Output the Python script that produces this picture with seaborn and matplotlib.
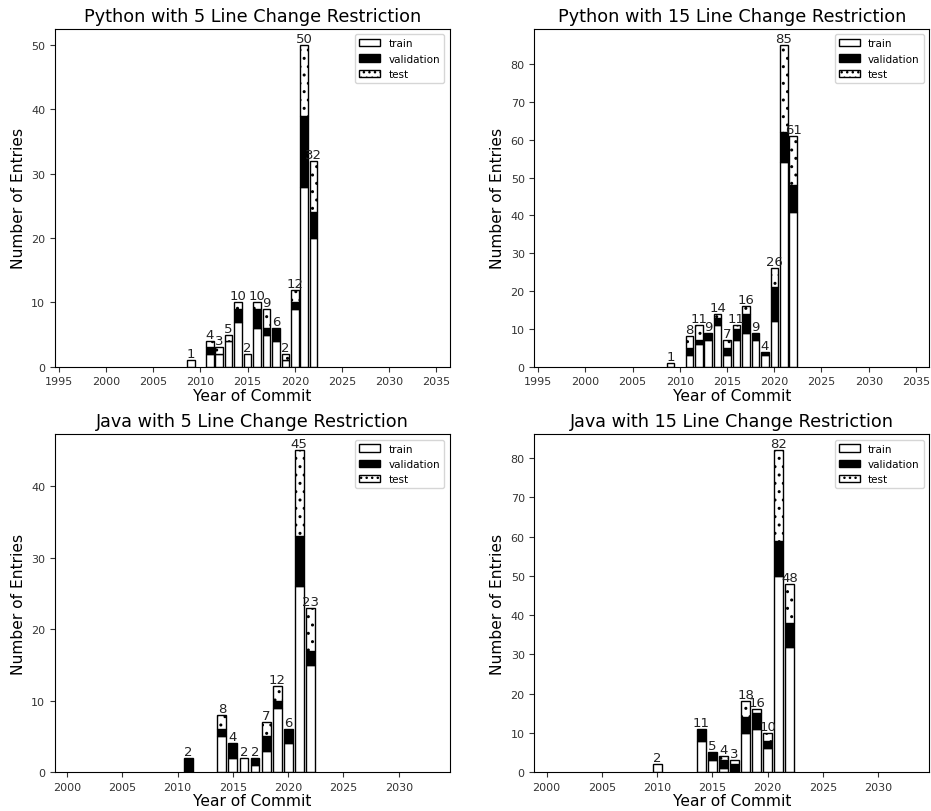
import matplotlib
matplotlib.use("Agg")
import matplotlib.pyplot as plt
import matplotlib.patches as mpatches
import seaborn as sns
import pandas as pd
import numpy as np
from matplotlib.colors import to_rgba

# ---------------- data ----------------
py5_years = [2009, 2011, 2012, 2013, 2014, 2015, 2016, 2017, 2018, 2019, 2020, 2021, 2022]
py5_train = [1, 2, 2, 4, 7, 2, 6, 5, 4, 1, 9, 28, 20]
py5_val = [0, 1, 0, 0, 2, 0, 3, 1, 2, 0, 1, 11, 4]
py5_test = [0, 1, 1, 1, 1, 0, 1, 3, 0, 1, 2, 11, 8]

py15_years = [2009, 2011, 2012, 2013, 2014, 2015, 2016, 2017, 2018, 2019, 2020, 2021, 2022]
py15_train = [1, 3, 6, 7, 11, 3, 7, 9, 7, 3, 12, 54, 41]
py15_val = [0, 2, 1, 2, 2, 2, 3, 5, 2, 1, 9, 8, 7]
py15_test = [0, 3, 4, 0, 1, 2, 1, 2, 0, 0, 5, 23, 13]

java5_years = [2011, 2014, 2015, 2016, 2017, 2018, 2019, 2020, 2021, 2022]
java5_train = [0, 5, 2, 2, 1, 3, 9, 4, 26, 15]
java5_val = [2, 1, 2, 0, 1, 2, 1, 2, 7, 2]
java5_test = [0, 2, 0, 0, 0, 2, 2, 0, 12, 6]

java15_years = [2010, 2014, 2015, 2016, 2017, 2018, 2019, 2020, 2021, 2022]
java15_train = [2, 8, 3, 1, 0, 10, 11, 6, 50, 32]
java15_val = [0, 3, 2, 2, 2, 4, 4, 2, 9, 6]
java15_test = [0, 0, 0, 1, 1, 4, 1, 2, 23, 10]

titles = ["Python with 5 Line Change Restriction", "Python with 15 Line Change Restriction",
          "Java with 5 Line Change Restriction", "Java with 15 Line Change Restriction"]
split_names = ["train", "validation", "test"]

panels = [
    (py5_years, py5_train, py5_val, py5_test, (1994.6, 2036.4)),
    (py15_years, py15_train, py15_val, py15_test, (1994.6, 2036.4)),
    (java5_years, java5_train, java5_val, java5_test, (1998.9, 2034.6)),
    (java15_years, java15_train, java15_val, java15_test, (1998.9, 2034.6)),
]

TEST_MARK = (0.998, 0.998, 0.998)
palette = {"train": "white", "validation": "black", "test": TEST_MARK}

plt.rcParams["hatch.linewidth"] = 1.0

fig, axes = plt.subplots(2, 2, figsize=(9.31, 8.12), dpi=100)
fig.subplots_adjust(left=0.059, right=0.998, top=0.963, bottom=0.048,
                    wspace=0.215, hspace=0.2)

for ax, title, (years, tr, va, te, xl) in zip(axes.flat, titles, panels):
    rows = []
    for y, a, b, c in zip(years, tr, va, te):
        rows.append((y, "train", a))
        rows.append((y, "validation", b))
        rows.append((y, "test", c))
    df = pd.DataFrame(rows, columns=["year", "split", "count"])
    sns.histplot(data=df, x="year", weights="count", hue="split",
                 hue_order=["test", "validation", "train"], multiple="stack",
                 discrete=True, shrink=0.8, palette=palette, alpha=1,
                 edgecolor="black", linewidth=1, legend=False, ax=ax)
    tm = to_rgba(TEST_MARK)
    for p in ax.patches:
        if p.get_height() == 0:
            p.set_visible(False)
            continue
        fc = p.get_facecolor()
        if np.allclose(fc, tm, atol=1e-3):
            p.set_facecolor("white")
            p.set_hatch("..")
    totals = [a + b + c for a, b, c in zip(tr, va, te)]
    for y, t in zip(years, totals):
        ax.text(y, t, str(t), ha="center", va="bottom", fontsize=9.5, color="#222222")
    ax.set_xlim(*xl)
    ax.set_ylim(0, max(totals) * 1.05)
    ax.set_title(title, fontsize=12.7)
    ax.set_xlabel("Year of Commit", fontsize=11.2, labelpad=1)
    ax.set_ylabel("Number of Entries", fontsize=11.2)
    ax.tick_params(labelsize=8, colors="#333333", labelcolor="#333333")
    for s in ax.spines.values():
        s.set_visible(True)
        s.set_color("black")
    handles = [
        mpatches.Patch(facecolor="white", edgecolor="black", label="train"),
        mpatches.Patch(facecolor="black", edgecolor="black", label="validation"),
        mpatches.Patch(facecolor="white", edgecolor="black", hatch="...", label="test"),
    ]
    ax.legend(handles=handles, loc="upper right", fontsize=7.5)

fig.savefig("out.png", dpi=100)
